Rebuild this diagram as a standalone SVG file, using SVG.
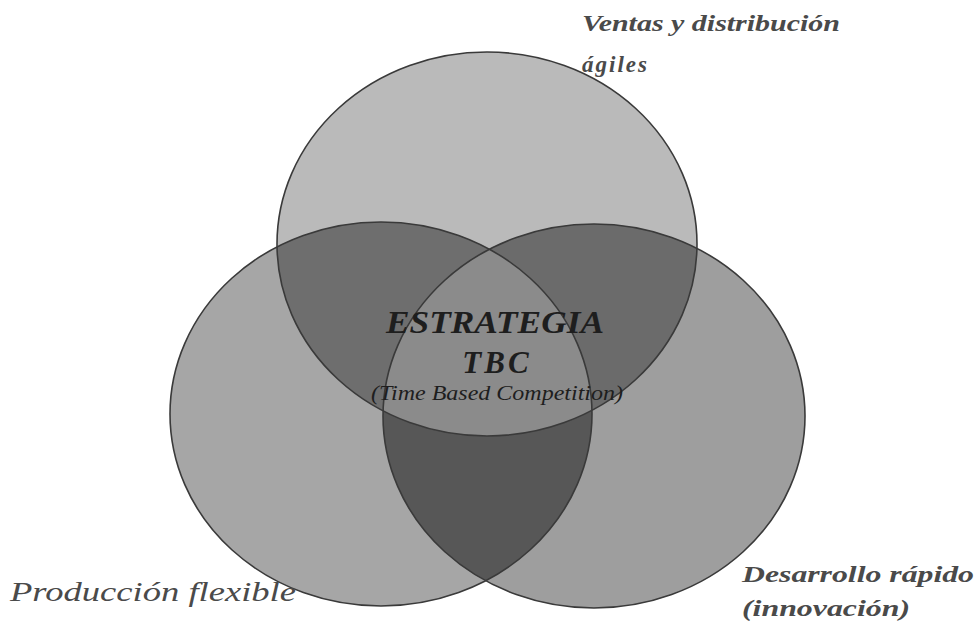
<svg xmlns="http://www.w3.org/2000/svg" width="975" height="628" viewBox="0 0 975 628">
<style>
.lbl{font-family:"Liberation Serif","Times New Roman",serif;font-style:italic;fill:#4a4a4a}
.ctr{font-family:"Liberation Serif","Times New Roman",serif;font-style:italic;font-weight:bold;fill:#1e1e1e}
.edge{fill:none;stroke:#3a3a3a;stroke-width:1.6}
</style>
<defs>
<ellipse id="eT" cx="487" cy="244" rx="210" ry="192"/>
<ellipse id="eL" cx="381" cy="414" rx="211" ry="192"/>
<ellipse id="eR" cx="594" cy="416" rx="211" ry="192"/>
<clipPath id="cT"><use href="#eT"/></clipPath>
<clipPath id="cL"><use href="#eL"/></clipPath>
<clipPath id="cR"><use href="#eR"/></clipPath>
</defs>
<rect width="975" height="628" fill="#ffffff"/>
<g id="circle-top"><use href="#eT" fill="#bababa"/></g>
<g id="circle-left"><use href="#eL" fill="#a6a6a6"/></g>
<g id="circle-right"><use href="#eR" fill="#9e9e9e"/></g>
<g id="overlaps">
<use href="#eL" fill="#6e6e6e" clip-path="url(#cT)"/>
<use href="#eR" fill="#6b6b6b" clip-path="url(#cT)"/>
<use href="#eR" fill="#575757" clip-path="url(#cL)"/>
<g clip-path="url(#cT)"><use href="#eR" fill="#8b8b8b" clip-path="url(#cL)"/></g>
</g>
<g id="outlines">
<use href="#eT" class="edge"/>
<use href="#eL" class="edge"/>
<use href="#eR" class="edge"/>
</g>
<g id="center">
<text class="ctr" x="495" y="333" font-size="31" text-anchor="middle" textLength="218" lengthAdjust="spacingAndGlyphs">ESTRATEGIA</text>
<text class="ctr" x="497" y="373" font-size="31" text-anchor="middle" letter-spacing="3">TBC</text>
<text x="497" y="400" font-family="Liberation Serif,Times New Roman,serif" font-style="italic" font-size="20" fill="#1e1e1e" text-anchor="middle" textLength="252" lengthAdjust="spacingAndGlyphs">(Time Based Competition)</text>
</g>
<g id="label-ventas">
<text class="lbl" x="582" y="31" font-size="23" font-weight="bold" textLength="258" lengthAdjust="spacingAndGlyphs">Ventas y distribución</text>
<text class="lbl" x="582" y="72" font-size="23" font-weight="bold" letter-spacing="2">ágiles</text>
</g>
<g id="label-produccion">
<text class="lbl" x="10" y="601" font-size="27" textLength="286" lengthAdjust="spacingAndGlyphs">Producción flexible</text>
</g>
<g id="label-desarrollo">
<text class="lbl" x="742" y="582" font-size="23" font-weight="bold" textLength="232" lengthAdjust="spacingAndGlyphs">Desarrollo rápido</text>
<text class="lbl" x="742" y="616" font-size="23" font-weight="bold" textLength="168" lengthAdjust="spacingAndGlyphs">(innovación)</text>
</g>
</svg>
